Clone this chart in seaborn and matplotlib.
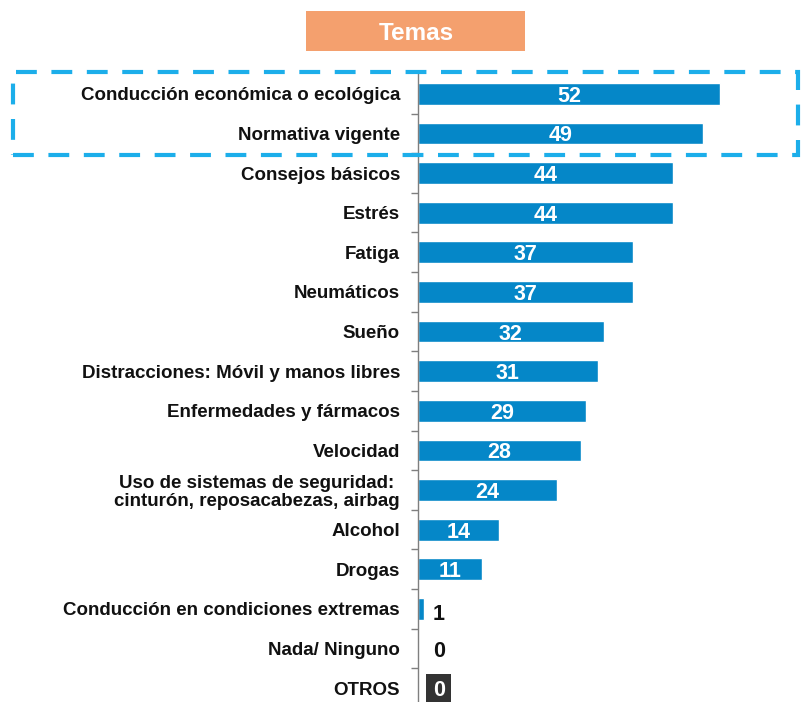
import matplotlib.pyplot as plt
import pandas as pd
import seaborn as sns
from matplotlib.patches import Rectangle

# Temas de formación vial: % de respuestas
categories = [
    "Conducción económica o ecológica",
    "Normativa vigente",
    "Consejos básicos",
    "Estrés",
    "Fatiga",
    "Neumáticos",
    "Sueño",
    "Distracciones: Móvil y manos libres",
    "Enfermedades y fármacos",
    "Velocidad",
    "Uso de sistemas de seguridad:\ncinturón, reposacabezas, airbag",
    "Alcohol",
    "Drogas",
    "Conducción en condiciones extremas",
    "Nada/ Ninguno",
    "OTROS",
]
values = [52, 49, 44, 44, 37, 37, 32, 31, 29, 28, 24, 14, 11, 1, 0, 0]

BLUE = "#0587C8"
ORANGE = "#F4A06E"
DASH = "#1CAEEA"

sns.set_theme(style="white")
plt.rcParams["font.family"] = ["Liberation Sans", "DejaVu Sans"]

df = pd.DataFrame({"tema": categories, "pct": values})

fig = plt.figure(figsize=(8.03, 7.02), dpi=100)
ax = fig.add_axes([0.5205, 0.0, 0.4795, 0.8946])
sns.barplot(data=df, x="pct", y="tema", color=BLUE, saturation=1,
            width=0.55, orient="h", ax=ax)

ax.set_xlim(0, 66.3)
ax.set_ylim(15.35, -0.5)
ax.set_xlabel("")
ax.set_ylabel("")
ax.set_xticks([])
for side in ["top", "right", "bottom"]:
    ax.spines[side].set_visible(False)
ax.spines["left"].set_color("#7f7f7f")
ax.spines["left"].set_linewidth(1)

ax.tick_params(axis="y", which="major", length=0, pad=13)
ax.set_yticks(range(len(categories)))
ax.set_yticklabels(categories, fontsize=13.5, fontweight="bold", color="#111111",
                   multialignment="center", linespacing=1.05)
ax.set_yticks([i + 0.5 for i in range(len(categories) - 1)], minor=True)
ax.tick_params(axis="y", which="minor", length=5, width=1, color="#7f7f7f",
               direction="out", left=True)

# value labels: inside the bar, outside for tiny values, boxed for OTROS
for i, v in enumerate(values):
    if categories[i] == "OTROS":
        ax.text(3.6, i, str(v), ha="center", va="center_baseline", fontsize=15.5,
                fontweight="bold", color="white",
                bbox=dict(boxstyle="square,pad=0.3", fc="#333333", ec="none"))
    elif v <= 1:
        ax.text(3.6, i + (0.08 if v else 0), str(v), ha="center",
                va="center_baseline", fontsize=15.5, fontweight="bold",
                color="#111111")
    else:
        ax.text(v / 2, i, str(v), ha="center", va="center_baseline",
                fontsize=15.5, fontweight="bold", color="white")

# header box
fig.patches.append(Rectangle((306 / 803, 1 - 51 / 702), 219 / 803, 40 / 702,
                             transform=fig.transFigure, fc=ORANGE, ec="none",
                             zorder=0))
fig.text(416 / 803, 1 - 31 / 702, "Temas", ha="center", va="center_baseline",
         fontsize=17.5, fontweight="bold", color="white")

# dashed highlight around the first two rows
fig.patches.append(Rectangle((13 / 803, 1 - 155 / 702), 785 / 803, 83 / 702,
                             transform=fig.transFigure, fill=False, ec=DASH,
                             lw=3, ls=(0, (5, 3.5)), zorder=5))

fig.savefig("out.png", dpi=100)
